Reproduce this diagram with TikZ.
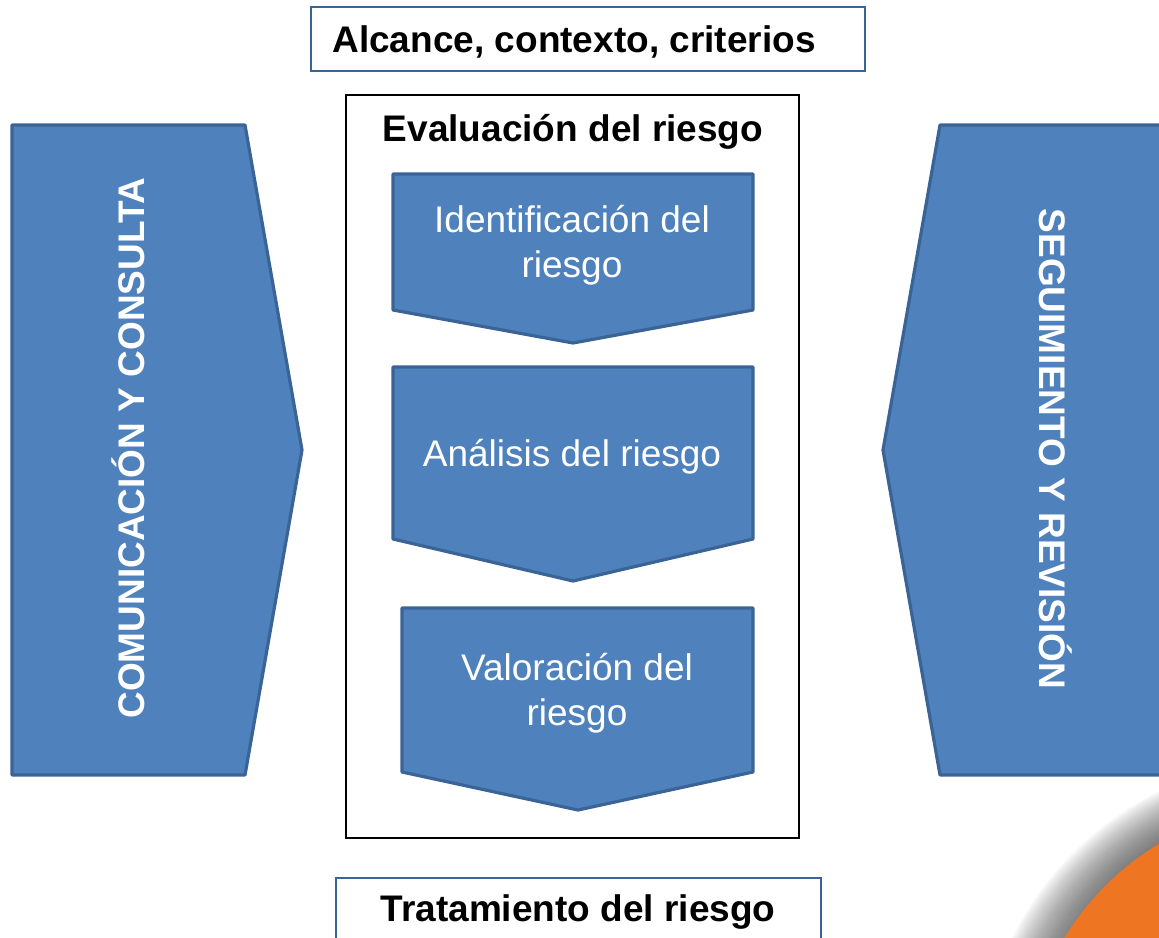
\documentclass[tikz,border=0pt]{standalone}
\usepackage{fontspec}
\setmainfont{Liberation Sans}
\definecolor{fillblue}{HTML}{4F81BD}
\definecolor{edgeblue}{HTML}{3A6496}
\definecolor{orng}{HTML}{EE7623}
\definecolor{shade}{HTML}{A4ADB6}
\tikzset{
  blueshape/.style={fill=fillblue, draw=edgeblue, line width=3.2pt, line join=round},
  frame/.style={draw=edgeblue, line width=2pt},
  bigtxt/.style={font=\fontsize{37}{45}\selectfont, align=center, inner sep=0pt},
  boldtxt/.style={bigtxt, font=\fontsize{37}{45}\selectfont\bfseries},
  whitetxt/.style={bigtxt, text=white},
  sidetxt/.style={boldtxt, text=white}
}
\begin{document}
\begin{tikzpicture}[x=1pt,y=-1pt]
\useasboundingbox (0,0) rectangle (1159,937);
\clip (0,0) rectangle (1159,937);
% orange corner with soft shadow
\foreach \r in {321,319,...,277} {
  \fill[shade, opacity=0.025] (1300,1080) circle (\r);
}
\fill[orng] (1300,1080) circle (275);

% top box
\draw[frame] (311,7) rectangle (865,71);
\node[boldtxt] (alc) at (574,42) {Alcance, contexto, criterios};

% evaluation frame
\draw[black, line width=2pt] (346,95) rectangle (799,838);
\node[boldtxt] (eval) at (573,132) {Evaluación del riesgo};

% chevrons
\draw[blueshape] (393,174) -- (753,174) -- (753,310) -- (573,343) -- (393,310) -- cycle;
\node[whitetxt] (ident) at (572,245) {Identificación del\\riesgo};

\draw[blueshape] (393,367) -- (753,367) -- (753,539) -- (573,581) -- (393,539) -- cycle;
\node[whitetxt] (anal) at (572,457) {Análisis del riesgo};

\draw[blueshape] (402,608) -- (753,608) -- (753,772) -- (578,810) -- (402,772) -- cycle;
\node[whitetxt] (valor) at (577,693) {Valoración del\\riesgo};

% side arrows
\draw[blueshape] (12,125) -- (245,125) -- (302,450) -- (245,775) -- (12,775) -- cycle;
\node[sidetxt, rotate=90] (com) at (128,448) {COMUNICACIÓN Y CONSULTA};

\draw[blueshape] (940,125) -- (1180,125) -- (1180,775) -- (940,775) -- (883,450) -- cycle;
\node[sidetxt, rotate=-90] (seg) at (1056,449) {SEGUIMIENTO Y REVISIÓN};

% bottom box
\draw[frame] (336,878) rectangle (821,960);
\node[boldtxt] (trat) at (578,912) {Tratamiento del riesgo};
\end{tikzpicture}
\end{document}
